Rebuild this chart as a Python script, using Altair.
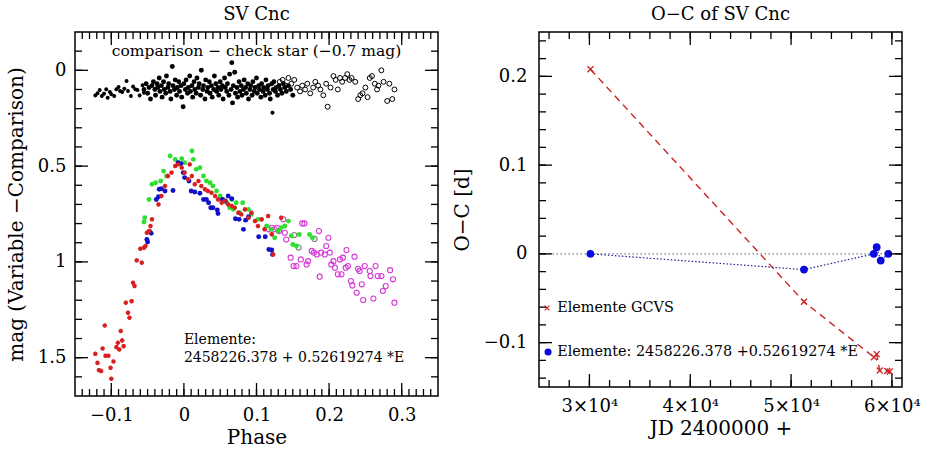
import altair as alt
import pandas as pd

FONT = "DejaVu Serif"

# ---------------- left panel: light curve ----------------
red_phase = [-0.122, -0.119, -0.117, -0.114, -0.112, -0.109, -0.108, -0.104, -0.101, -0.100,
             -0.097, -0.093, -0.091, -0.089, -0.087, -0.085, -0.083, -0.080, -0.077, -0.075,
             -0.072, -0.070, -0.068, -0.065, -0.058, -0.060, -0.055, -0.053, -0.051, -0.048,
             -0.046, -0.044, -0.035, -0.031, -0.026, -0.022, -0.017, -0.012, -0.008, -0.003,
             0.001, 0.006, 0.011, 0.008, 0.015, 0.020, 0.024, 0.029, 0.033, 0.038,
             0.043, 0.047, 0.052, 0.056, 0.061, 0.066, 0.070, 0.075, 0.079, 0.084,
             0.089, 0.093, 0.098, 0.102, 0.107, 0.111, 0.116, 0.121, 0.123, 0.134]
red_mag = [1.480, 1.527, 1.565, 1.570, 1.452, 1.332, 1.490, 1.490, 1.553, 1.610,
           1.520, 1.445, 1.422, 1.457, 1.361, 1.410, 1.440, 1.213, 1.265, 1.291,
           1.205, 1.109, 1.126, 0.992, 1.004, 0.931, 0.926, 0.917, 0.848, 0.839,
           0.813, 0.778, 0.700, 0.656, 0.604, 0.552, 0.534, 0.500, 0.491, 0.508,
           0.534, 0.569, 0.552, 0.491, 0.595, 0.578, 0.604, 0.621, 0.630, 0.639,
           0.656, 0.674, 0.691, 0.682, 0.700, 0.708, 0.717, 0.743, 0.752, 0.726,
           0.769, 0.743, 0.787, 0.813, 0.778, 0.830, 0.761, 0.856, 0.961, 0.769]

green_phase = [-0.055, -0.054, -0.048, -0.044, -0.039, -0.032, -0.028, -0.024, -0.019, -0.012,
               -0.008, -0.003, 0.001, 0.011, 0.013, 0.017, 0.022, 0.027, 0.031, 0.036,
               0.040, 0.045, 0.050, 0.054, 0.059, 0.063, 0.068, 0.072, 0.077, 0.081,
               0.102, 0.107, 0.114, 0.120, 0.125, 0.130, 0.134, 0.139, 0.144, 0.148,
               0.150, 0.155, 0.159, 0.173, 0.177, 0.089, 0.093, 0.066]
green_mag = [0.792, 0.769, 0.674, 0.595, 0.587, 0.578, 0.526, 0.552, 0.447, 0.465,
             0.482, 0.461, 0.482, 0.421, 0.465, 0.517, 0.508, 0.552, 0.578, 0.587,
             0.604, 0.630, 0.656, 0.674, 0.691, 0.717, 0.726, 0.691, 0.743, 0.691,
             0.778, 0.778, 0.813, 0.830, 0.874, 0.839, 0.822, 0.813, 0.787, 0.865,
             0.909, 0.917, 0.857, 0.857, 0.874, 0.726, 0.752, 0.674]

blue_phase = [-0.051, -0.050, -0.047, -0.045, -0.038, -0.035, -0.034, -0.031, -0.026, -0.015,
              -0.008, -0.004, -0.001, 0.001, 0.007, 0.010, 0.015, 0.022, 0.027, 0.031,
              0.034, 0.037, 0.040, 0.046, 0.047, 0.053, 0.057, 0.061, 0.066, 0.071,
              0.076, 0.082, 0.085, 0.089, 0.103, 0.112, 0.117, 0.121, 0.122]
blue_mag = [0.883, 0.896, 0.842, 0.851, 0.674, 0.660, 0.621, 0.618, 0.630, 0.627,
            0.482, 0.487, 0.534, 0.560, 0.578, 0.630, 0.635, 0.642, 0.674, 0.674,
            0.691, 0.717, 0.717, 0.729, 0.748, 0.674, 0.682, 0.656, 0.670, 0.775,
            0.778, 0.830, 0.782, 0.764, 0.869, 0.869, 0.935, 0.938, 0.961]

magenta_phase = [0.117, 0.121, 0.125, 0.128, 0.131, 0.137, 0.139, 0.141, 0.147, 0.151,
                 0.155, 0.161, 0.163, 0.166, 0.169, 0.171, 0.176, 0.179, 0.183, 0.186,
                 0.187, 0.189, 0.194, 0.196, 0.199, 0.201, 0.203, 0.206, 0.208, 0.212,
                 0.215, 0.217, 0.219, 0.223, 0.224, 0.226, 0.230, 0.232, 0.235, 0.238,
                 0.240, 0.242, 0.245, 0.247, 0.249, 0.256, 0.257, 0.261, 0.264, 0.267,
                 0.272, 0.274, 0.278, 0.284, 0.288, 0.290]
magenta_mag = [0.830, 0.822, 0.830, 0.822, 0.839, 0.778, 0.848, 0.883, 0.978, 1.022,
               1.022, 0.987, 0.799, 0.799, 1.013, 0.996, 0.943, 0.952, 0.961, 0.839,
               1.077, 0.952, 0.961, 0.917, 0.874, 0.952, 1.013, 0.996, 1.030, 1.065,
               0.987, 1.065, 0.978, 1.030, 0.938, 1.022, 1.100, 1.123, 0.973, 1.161,
               1.036, 1.047, 1.117, 1.199, 1.022, 1.048, 1.074, 1.191, 1.022, 1.074,
               1.074, 1.152, 1.126, 1.043, 1.091, 1.213]

gray_phase = [0.152, 0.158, 0.180]
gray_mag = [0.860, 0.925, 0.880]

# comparison - check star
cmp_star_phase = [-0.122, -0.119, -0.116, -0.113, -0.110, -0.107, -0.105, -0.102, -0.100, -0.096,
                  -0.093, -0.090, -0.088, -0.085, -0.082, -0.079, -0.077, -0.073, -0.070, -0.067,
                  -0.064, -0.061, -0.057, -0.055, 0.122]
cmp_star_mag = [0.131, 0.120, 0.103, 0.134, 0.122, 0.099, 0.143, 0.113, 0.125, 0.134,
                0.099, 0.087, 0.108, 0.113, 0.096, 0.056, 0.108, 0.134, 0.085, 0.099,
                0.103, 0.131, 0.078, 0.117, 0.221]

cmp_dot_phase = [-0.055, -0.052, -0.050, -0.048, -0.046, -0.044, -0.042, -0.040, -0.039, -0.037,
                 -0.036, -0.034, -0.033, -0.031, -0.030, -0.028, -0.027, -0.025, -0.024, -0.022,
                 -0.021, -0.019, -0.018, -0.016, -0.015, -0.013, -0.012, -0.010, -0.009, -0.007,
                 -0.006, -0.004, -0.003, -0.001, 0.000, 0.002, 0.003, 0.005, 0.006, 0.008,
                 0.009, 0.011, 0.012, 0.014, 0.015, 0.017, 0.018, 0.020, 0.021, 0.023,
                 0.024, 0.026, 0.027, 0.029, 0.030, 0.032, 0.033, 0.035, 0.036, 0.038,
                 0.039, 0.041, 0.042, 0.044, 0.045, 0.047, 0.048, 0.050, 0.051, 0.053,
                 0.054, 0.056, 0.057, 0.059, 0.060, 0.062, 0.063, 0.065, 0.066, 0.067,
                 0.068, 0.070, 0.071, 0.073, 0.074, 0.076, 0.077, 0.079, 0.080, 0.082,
                 0.083, 0.085, 0.086, 0.088, 0.089, 0.091, 0.092, 0.094, 0.095, 0.097,
                 0.098, 0.100, 0.101, 0.103, 0.104, 0.106, 0.107, 0.109, 0.110, 0.112,
                 0.113, 0.115, 0.116, 0.118, 0.119, 0.121, 0.123, 0.124, 0.126, 0.127,
                 0.129, 0.131, 0.133, 0.135, 0.137, 0.139, 0.141, 0.144, 0.147, 0.150]
cmp_dot_mag = [0.10, 0.07, 0.12, 0.09, 0.15, 0.08, 0.06, 0.10, 0.13, 0.07,
               0.09, 0.04, 0.11, 0.08, 0.14, 0.06, 0.10, 0.12, 0.03, 0.09,
               0.07, 0.11, 0.15, -0.02, 0.08, 0.10, 0.05, 0.13, 0.09, 0.06,
               0.11, 0.08, 0.14, 0.19, 0.07, 0.10, 0.05, 0.12, 0.09, 0.03,
               0.11, 0.08, 0.14, 0.06, 0.10, 0.12, 0.04, 0.09, 0.07, 0.13,
               0.00, 0.10, 0.08, 0.15, 0.05, 0.11, 0.09, 0.06, 0.12, 0.08,
               0.14, 0.10, 0.03, 0.07, 0.11, 0.09, 0.13, 0.06, 0.10, 0.08,
               0.15, 0.04, 0.09, 0.11, 0.07, 0.13, 0.02, 0.10, -0.04, 0.17,
               0.08, 0.01, 0.12, 0.09, 0.14, 0.06, 0.11, 0.08, 0.13, 0.10,
               0.05, 0.09, 0.12, 0.07, 0.15, 0.10, 0.08, 0.13, 0.06, 0.11,
               0.09, 0.04, 0.12, 0.08, 0.10, 0.14, 0.07, 0.11, 0.09, 0.13,
               0.05, 0.10, 0.08, 0.12, 0.15, 0.07, 0.10, 0.06, 0.11, 0.09,
               0.13, 0.08, 0.10, 0.12, 0.07, 0.09, 0.11, 0.08, 0.10, 0.13]

cmp_open_phase = [0.132, 0.136, 0.140, 0.144, 0.148, 0.152, 0.156, 0.160, 0.163, 0.167,
                  0.170, 0.174, 0.178, 0.181, 0.185, 0.188, 0.192, 0.196, 0.198, 0.202,
                  0.206, 0.209, 0.212, 0.215, 0.218, 0.222, 0.225, 0.228, 0.231, 0.236,
                  0.240, 0.243, 0.246, 0.250, 0.253, 0.256, 0.259, 0.263, 0.266, 0.268,
                  0.272, 0.275, 0.280, 0.283, 0.287, 0.290]
cmp_open_mag = [0.06, 0.05, 0.08, 0.04, 0.07, 0.05, 0.09, 0.11, 0.08, 0.10,
                0.07, 0.12, 0.09, 0.06, 0.08, 0.10, 0.13, 0.07, 0.19, 0.09,
                0.03, 0.05, 0.10, 0.04, 0.06, 0.04, 0.02, 0.05, 0.04, 0.06,
                0.15, 0.13, 0.12, 0.09, 0.14, 0.04, 0.03, 0.07, 0.10, 0.08,
                0.00, 0.06, 0.16, 0.07, 0.15, 0.10]

lc_x_major = [-0.1, 0, 0.1, 0.2, 0.3]
lc_x_minor = [round(-0.14 + 0.01 * i, 2) for i in range(49)]
lc_y_major = [0, 0.5, 1, 1.5]
lc_y_minor = [round(-0.1 + 0.1 * i, 1) for i in range(18)]

# ---------------- right panel: O-C ----------------
gcvs_jd = [30100, 51280, 58220, 58490, 58790, 59540, 59780]
gcvs_oc = [0.208, -0.054, -0.1165, -0.113, -0.1315, -0.132, -0.1325]
new_jd = [30100, 51280, 58200, 58490, 58890, 59640]
new_oc = [0.0, -0.0177, 0.0, 0.0075, -0.0075, 0.0]

oc_x_major = [30000, 40000, 50000, 60000]
oc_x_minor = [26000 + 2000 * i for i in range(18)]
oc_y_major = [-0.1, 0, 0.1, 0.2]
oc_y_minor = [round(-0.14 + 0.02 * i, 2) for i in range(20)]

MINUS = "replace(toString(datum.value), '-', '\u2212')"
ASTER = "M-1,0H1M0,-1V1M-0.7,-0.7L0.7,0.7M-0.7,0.7L0.7,-0.7"
XMARK = "M-1,-1L1,1M-1,1L1,-1"

LW, LH = 363, 364
RW, RH = 363, 355
LXD, LYD = [-0.15, 0.35], [-0.2, 1.7]
RXD, RYD = [25000, 61000], [-0.15, 0.25]


def tick_layers(xe_fn, ye_fn, xdom, ydom, xmaj, xmin, ymaj, ymin, W, H):
    """Inward frame ticks on all four sides, as tick marks centred through the scales."""
    ux = (xdom[1] - xdom[0]) / W   # data units per pixel
    uy = (ydom[1] - ydom[0]) / H
    out = []
    for vals, L in [(xmin, 7), (xmaj, 13)]:
        n = len(vals)
        for c in [ydom[0] + 0.5 * L * uy, ydom[1] - 0.5 * L * uy]:
            df = pd.DataFrame({"v": vals, "c": [c] * n})
            out.append(alt.Chart(df).mark_tick(orient="vertical", size=L, thickness=1.3,
                                               color="black", opacity=1)
                       .encode(x=xe_fn("v"), y=ye_fn("c")))
    for vals, L in [(ymin, 7), (ymaj, 13)]:
        n = len(vals)
        for c in [xdom[0] + 0.5 * L * ux, xdom[1] - 0.5 * L * ux]:
            df = pd.DataFrame({"v": vals, "c": [c] * n})
            out.append(alt.Chart(df).mark_tick(orient="horizontal", size=L, thickness=1.3,
                                               color="black", opacity=1)
                       .encode(y=ye_fn("v"), x=xe_fn("c")))
    return out


# ----- left chart -----
lx = alt.Scale(domain=LXD, nice=False, zero=False)
ly = alt.Scale(domain=LYD, reverse=True, nice=False, zero=False)
lx_axis = alt.Axis(orient="bottom", values=lc_x_major, ticks=False, domain=False, grid=False,
                   labelExpr=MINUS, labelPadding=10, title="Phase", titlePadding=3)
ly_axis = alt.Axis(orient="left", values=lc_y_major, ticks=False, domain=False, grid=False,
                   labelExpr=MINUS, labelPadding=9, title="mag (Variable \u2212Comparison)",
                   titlePadding=11)


def LX(f):
    return alt.X(f + ":Q", scale=lx, axis=lx_axis)


def LY(f):
    return alt.Y(f + ":Q", scale=ly, axis=ly_axis)


def lc_layer(ph, mg, mark):
    df = pd.DataFrame({"phase": ph, "mag": mg})
    return alt.Chart(df).mark_point(**mark).encode(x=LX("phase"), y=LY("mag"))


left_layers = [
    lc_layer(cmp_star_phase, cmp_star_mag,
             dict(shape=ASTER, filled=False, stroke="black", strokeWidth=1.2, opacity=1, size=16)),
    lc_layer(cmp_dot_phase, cmp_dot_mag,
             dict(shape="circle", filled=True, color="black", opacity=1, size=24)),
    lc_layer(cmp_open_phase, cmp_open_mag,
             dict(shape="circle", filled=False, color="black", strokeWidth=1, opacity=1, size=24)),
    lc_layer(magenta_phase, magenta_mag,
             dict(shape="circle", filled=False, color="#d63bd6", strokeWidth=1.1, opacity=1, size=26)),
    lc_layer(gray_phase, gray_mag,
             dict(shape="circle", filled=False, color="#808080", strokeWidth=1.1, opacity=1, size=26)),
    lc_layer(green_phase, green_mag,
             dict(shape="circle", filled=True, color="#2ee02e", opacity=1, size=24)),
    lc_layer(blue_phase, blue_mag,
             dict(shape="circle", filled=True, color="#1010c8", opacity=1, size=24)),
    lc_layer(red_phase, red_mag,
             dict(shape=ASTER, filled=False, stroke="#d82020", strokeWidth=1.5, opacity=1, size=20)),
]

lc_text_phase = [0.1, 0.0, 0.0]
lc_text_mag = [-0.099, 1.41, 1.504]
lc_text_str = ["comparison \u2212 check star  (\u22120.7 mag)", "Elemente:",
               "2458226.378 + 0.52619274 *E"]
lc_text_align = ["center", "left", "left"]
lc_text_size = [15.5, 14, 14]
lc_texts = []
for ph, mg, t, a, fs in zip(lc_text_phase, lc_text_mag, lc_text_str, lc_text_align, lc_text_size):
    lc_texts.append(
        alt.Chart(pd.DataFrame({"phase": [ph], "mag": [mg], "t": [t]}))
        .mark_text(font=FONT, fontSize=fs, align=a, baseline="middle", color="black")
        .encode(x=LX("phase"), y=LY("mag"), text="t:N"))

left = alt.layer(
    *left_layers, *lc_texts,
    *tick_layers(LX, LY, LXD, LYD, lc_x_major, lc_x_minor, lc_y_major, lc_y_minor, LW, LH)
).properties(
    width=LW, height=LH,
    title=alt.TitleParams("SV Cnc", font=FONT, fontSize=18, fontWeight="normal", offset=8))

# ----- right chart -----
rx = alt.Scale(domain=RXD, nice=False, zero=False)
ry = alt.Scale(domain=RYD, nice=False, zero=False)
rx_axis = alt.Axis(orient="bottom", values=oc_x_major, ticks=False, domain=False, grid=False,
                   labelExpr="(datum.value / 10000) + '\u00d710\u2074'", labelPadding=10,
                   title="JD 2400000 +", titlePadding=3)
ry_axis = alt.Axis(orient="left", values=oc_y_major, ticks=False, domain=False, grid=False,
                   labelExpr=MINUS, labelPadding=12, title="O\u2212C  [d]", titlePadding=11)


def RX(f):
    return alt.X(f + ":Q", scale=rx, axis=rx_axis)


def RY(f):
    return alt.Y(f + ":Q", scale=ry, axis=ry_axis)


gcvs_df = pd.DataFrame({"jd": gcvs_jd, "oc": gcvs_oc})
new_df = pd.DataFrame({"jd": new_jd, "oc": new_oc})

zero_line = alt.Chart(pd.DataFrame({"oc": [0.0]})).mark_rule(
    color="#555577", strokeDash=[1.5, 2.5], strokeWidth=1).encode(y=RY("oc"))
gcvs_line = alt.Chart(gcvs_df).mark_line(color="#cc2222", strokeDash=[7, 5], strokeWidth=1.4).encode(
    x=RX("jd"), y=RY("oc"))
gcvs_pts = alt.Chart(gcvs_df).mark_point(shape=XMARK, filled=False, stroke="#cc2222",
                                         strokeWidth=1.3, opacity=1, size=36).encode(
    x=RX("jd"), y=RY("oc"))
new_line = alt.Chart(new_df).mark_line(color="#202090", strokeDash=[1.5, 2], strokeWidth=1.2).encode(
    x=RX("jd"), y=RY("oc"))
new_pts = alt.Chart(new_df).mark_point(shape="circle", filled=True, color="#0a0ae0",
                                       opacity=1, size=60).encode(x=RX("jd"), y=RY("oc"))

leg_x = alt.Chart(pd.DataFrame({"jd": [25800], "oc": [-0.061]})).mark_point(
    shape=XMARK, filled=False, stroke="#cc2222", strokeWidth=1.2, opacity=1, size=22).encode(
    x=RX("jd"), y=RY("oc"))
leg_d = alt.Chart(pd.DataFrame({"jd": [25900], "oc": [-0.1105]})).mark_point(
    shape="circle", filled=True, color="#0a0ae0", opacity=1, size=50).encode(
    x=RX("jd"), y=RY("oc"))
leg_text = alt.Chart(pd.DataFrame({
    "jd": [26800, 26800], "oc": [-0.061, -0.1105],
    "t": ["Elemente GCVS", "Elemente: 2458226.378 +0.52619274 *E"]})).mark_text(
    font=FONT, fontSize=14.4, align="left", baseline="middle", color="black").encode(
    x=RX("jd"), y=RY("oc"), text="t:N")

right = alt.layer(
    zero_line, gcvs_line, gcvs_pts, new_line, new_pts, leg_x, leg_d, leg_text,
    *tick_layers(RX, RY, RXD, RYD, oc_x_major, oc_x_minor, oc_y_major, oc_y_minor, RW, RH)
).properties(
    width=RW, height=RH,
    title=alt.TitleParams("O\u2212C of SV Cnc", font=FONT, fontSize=18, fontWeight="normal", offset=8))

chart = alt.hconcat(left, right, spacing=12).configure(
    background="white", padding={"left": 5, "top": 5, "right": 5, "bottom": 5}
).configure_view(stroke="black", strokeWidth=1.5).configure_axis(
    labelFont=FONT, titleFont=FONT, labelFontSize=18, titleFontSize=20,
    labelColor="black", titleColor="black", titleFontWeight="normal"
).configure_title(color="black")

chart.save("out.html", embed_options={"renderer": "svg", "actions": False})
